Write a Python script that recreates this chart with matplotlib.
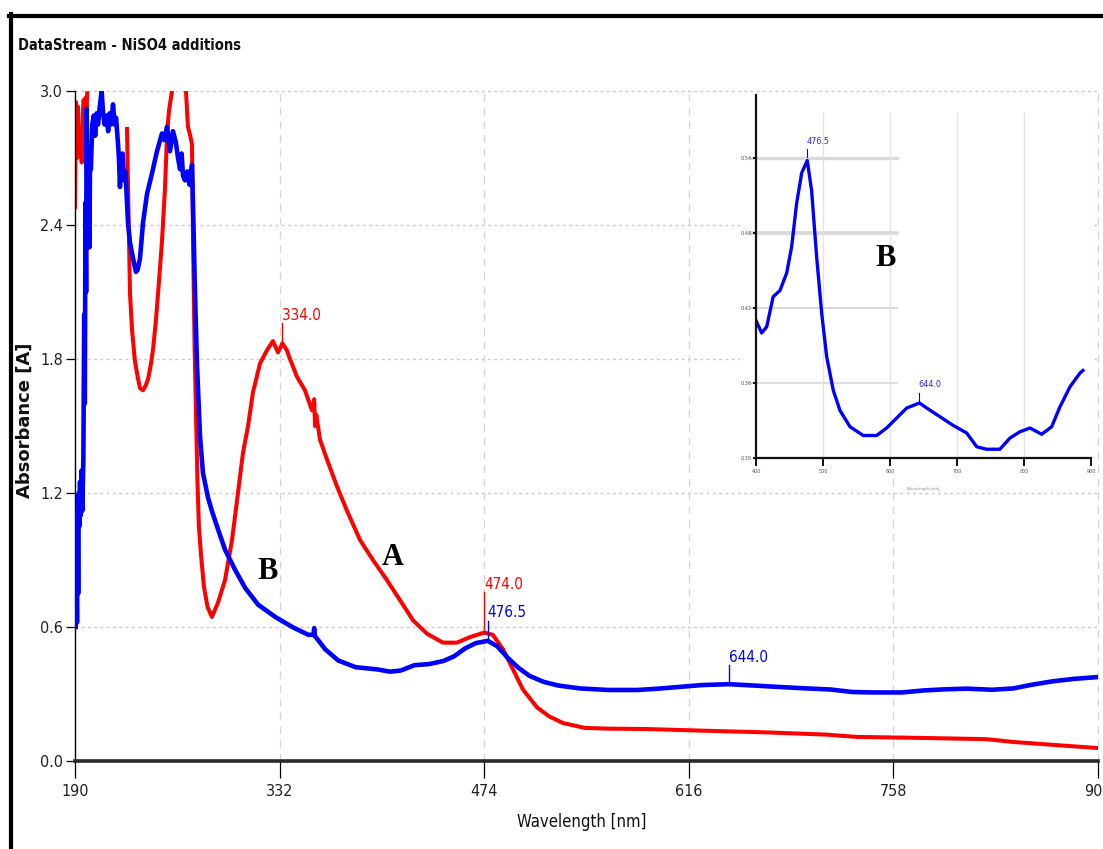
import matplotlib
matplotlib.use("Agg")
import matplotlib.pyplot as plt
from matplotlib.lines import Line2D
from matplotlib.patches import Rectangle

NAN = float("nan")

# ---------------- data ----------------
# Spectrum A (red): wavelength [nm] / absorbance [A]; nan = detector saturated
wl_a = [190, 190.7, 191.3, 192, 192.7, 193.4, 194, 194.7, 195.4, 196, 196.7, 197.4,
        198, 198.5, 199, 225.5, 226.1, 226.8, 227.5, 228.2, 229.6, 231.6, 233.5,
        235.1, 237.2, 239, 240.7, 242.5, 244.1, 246, 247.6, 250.4, 252.5, 253.9,
        255.2, 257.3, 258.5, 265.5, 267.0, 268.4, 270, 271.2, 272.0, 273.0, 274.0,
        275.0, 276.0, 277.5, 279.5, 282.0, 285.0, 289.3, 294.1, 299.0, 303.1, 306.6,
        310.1, 313.5, 318.4, 323.3, 327.4, 330.9, 334.0, 337, 339.2, 344.1, 349.6,
        354.5, 356.0, 356.6, 357.5, 360.0, 364.9, 371.8, 378.8, 387.8, 396.8, 406.5,
        415.6, 424.6, 434.3, 445.4, 455.1, 464.2, 474.0, 480, 487.1, 494.0, 500.9,
        510.7, 519.0, 528.7, 544.0, 560, 587.7, 630, 671.0, 711.9, 732.1, 780,
        822.3, 841.7, 873.7, 900]
abs_a = [2.48, 2.95, 2.70, 2.93, 2.75, 2.82, 2.72, 2.68, 2.90, 2.96, 2.92, 2.97,
         2.90, 2.99, NAN, NAN, 2.83, 2.57, 2.33, 2.09, 1.93, 1.79, 1.72,
         1.67, 1.66, 1.68, 1.71, 1.77, 1.84, 1.96, 2.09, 2.33, 2.57, 2.81,
         2.91, 3.00, NAN, NAN, 3.00, 2.84, 2.80, 2.76, 2.30, 1.85, 1.55,
         1.25, 1.05, 0.92, 0.78, 0.69, 0.645, 0.71, 0.81, 0.99, 1.20, 1.38,
         1.50, 1.65, 1.78, 1.84, 1.88, 1.83, 1.87, 1.84, 1.80, 1.72, 1.66,
         1.57, 1.62, 1.50, 1.55, 1.44, 1.35, 1.23, 1.12, 0.99, 0.90, 0.81,
         0.72, 0.63, 0.57, 0.53, 0.53, 0.555, 0.575, 0.565, 0.50, 0.41, 0.32,
         0.24, 0.20, 0.17, 0.148, 0.145, 0.143, 0.135, 0.128, 0.118, 0.108, 0.103,
         0.098, 0.085, 0.070, 0.058]

# Spectrum B (blue)
wl_b = [190.5, 191, 191.4, 191.8, 192.2, 192.6, 193, 193.5, 194, 194.5, 195, 195.8,
        196.4, 196.8, 197.3, 197.7, 198.1, 198.6, 199, 199.5, 200, 200.5, 201, 202,
        203, 204, 205, 206, 207, 208.5, 209.5, 210.5, 212, 213, 214, 215, 216.4,
        217.5, 218.5, 219.9, 220.5, 221.2, 222, 223, 224, 225, 226.8, 228.2, 230.3,
        232.3, 233.5, 235.1, 237.2, 240, 243.4, 246.9, 250.4, 252, 253.9, 255.9,
        258, 260, 261.5, 262.9, 264, 265, 266.3, 268, 269.5, 271.2, 271.9, 273.3,
        274.7, 276.8, 278.8, 282.3, 285.0, 288.6, 294.2, 301.2, 308.1, 317.1, 329.0,
        340.8, 351.9, 355.5, 356.0, 356.5, 363.7, 372.7, 384.8, 400, 408.5, 416,
        425.6, 435.8, 445.8, 453.2, 460.7, 468.2, 476.5, 483, 490.5, 498, 505.5,
        515.4, 525.4, 540.3, 560.1, 580.1, 595, 610, 625, 644, 654.8, 674.6, 694.5,
        714.5, 729.4, 744, 764, 779.1, 794, 809, 826.4, 841.3, 853.7, 868.7, 883.6,
        888, 900]
abs_b = [0.60, 0.85, 0.62, 1.10, 0.75, 1.20, 1.05, 1.25, 1.10, 1.30, 1.12, 1.35,
         2.00, 1.60, 2.50, 2.10, 2.92, 2.55, 2.35, 2.72, 2.30, 2.75, 2.65, 2.85,
         2.89, 2.80, 2.90, 2.85, 2.92, 3.00, 2.90, 2.85, 2.89, 2.82, 2.90, 2.85, 2.94,
         2.85, 2.88, 2.76, 2.70, 2.57, 2.68, 2.72, 2.60, 2.64, 2.41, 2.32, 2.25,
         2.19, 2.20, 2.25, 2.41, 2.54, 2.63, 2.73, 2.81, 2.78, 2.84, 2.73,
         2.82, 2.77, 2.70, 2.65, 2.72, 2.62, 2.60, 2.64, 2.58, 2.67, 2.49, 2.09,
         1.77, 1.45, 1.29, 1.18, 1.12, 1.05, 0.945, 0.855, 0.775, 0.70, 0.645,
         0.60, 0.565, 0.565, 0.595, 0.56, 0.50, 0.45, 0.42, 0.41, 0.40, 0.405,
         0.429, 0.434, 0.448, 0.469, 0.504, 0.528, 0.538, 0.514, 0.461, 0.416, 0.381,
         0.354, 0.338, 0.325, 0.318, 0.318, 0.324, 0.332, 0.340, 0.344, 0.340, 0.333, 0.326,
         0.320, 0.309, 0.307, 0.307, 0.316, 0.321, 0.324, 0.319, 0.325, 0.341, 0.357, 0.368,
         0.370, 0.376]

# Marked peaks: (wavelength, absorbance at the peak)
peaks_a = [(334.0, 1.87), (474.0, 0.575)]
peaks_b = [(476.5, 0.538), (644.0, 0.344)]

x_ticks = [190, 332, 474, 616, 758, 900]
y_ticks = [0.0, 0.6, 1.2, 1.8, 2.4, 3.0]
inset_x_ticks = [400, 500, 600, 700, 800, 900]
inset_y_ticks = [0.30, 0.36, 0.42, 0.48, 0.54]

title = "DataStream - NiSO4 additions"
x_label = "Wavelength [nm]"
y_label = "Absorbance [A]"

RED = "#ff0000"
BLUE = "#0000ff"
NARROW = dict(family="DejaVu Sans", stretch="condensed")
SERIF = ["Liberation Serif", "DejaVu Serif"]

W, H = 1103, 849
fig = plt.figure(figsize=(W / 100, H / 100), dpi=100)
fig.patch.set_facecolor("white")

def fx(px):
    return px / W

def fy(py):
    return 1 - py / H

# frame lines along the top and left edge of the window
fig.add_artist(Line2D([fx(9), 1], [fy(15.5), fy(15.5)], lw=3, color="black"))
fig.add_artist(Line2D([fx(11), fx(11)], [0, fy(14)], lw=3, color="black"))

fig.text(fx(18), fy(46), title, fontsize=10.5, fontweight="bold",
         va="center", ha="left", color="#111111", **NARROW)

# ---------------- main chart ----------------
ax = fig.add_axes([fx(75), fy(761), fx(1098 - 75), (761 - 91) / H], zorder=0)
ax.set_xlim(190, 900)
ax.set_ylim(0, 3.0)

for y in y_ticks[1:]:
    ax.axhline(y, color="#c9c9c9", lw=1.0, ls=(0, (2, 2.5)), zorder=0.5, clip_on=False)
for x in x_ticks[1:]:
    ax.axvline(x, color="#d4d4d4", lw=0.9, ls=(0, (6, 5)), zorder=0.5, clip_on=False)

ax.plot(wl_a, abs_a, color=RED, lw=2.9, zorder=2, solid_joinstyle="round")
ax.plot(wl_b, abs_b, color=BLUE, lw=3.3, zorder=3, solid_joinstyle="round")

for spine in ("top", "right"):
    ax.spines[spine].set_visible(False)
ax.spines["left"].set_linewidth(1.0)
ax.spines["left"].set_color("black")
ax.spines["bottom"].set_linewidth(2.6)
ax.spines["bottom"].set_color("#2a2a2a")

ax.set_xticks(x_ticks)
ax.set_xticklabels([str(t) for t in x_ticks], fontsize=11.5, color="#222222", **NARROW)
ax.set_yticks(y_ticks)
ax.set_yticklabels([f"{t:.1f}" for t in y_ticks], fontsize=11.5, color="#222222", **NARROW)
ax.tick_params(axis="x", direction="out", length=12.5, width=0.9, pad=4, color="black")
ax.tick_params(axis="y", direction="out", length=6.5, width=0.9, pad=2, color="black")

fig.text(fx(582), fy(822), x_label, fontsize=12, ha="center",
         va="center", color="#111111", **NARROW)
fig.text(fx(25), fy(420), y_label, fontsize=13, fontweight="bold", rotation=90,
         family="DejaVu Sans", ha="center", va="center", color="#111111")

# peak markers with their wavelength labels
def mark_peak(axis, wl, val, lo, hi, gap, color, size, lw):
    axis.plot([wl, wl], [val + lo, val + hi], color=color, lw=lw, zorder=4)
    axis.text(wl, val + hi + gap, f"{wl:.1f}", color=color, fontsize=size,
              ha="left", va="baseline", zorder=4, **NARROW)

mark_peak(ax, peaks_a[0][0], peaks_a[0][1], 0.0, 0.09, 0.015, RED, 11, 1.0)
mark_peak(ax, peaks_a[1][0], peaks_a[1][1], 0.0, 0.18, 0.015, RED, 11, 1.0)
mark_peak(ax, peaks_b[0][0], peaks_b[0][1], 0.01, 0.09, 0.015, BLUE, 11, 1.0)
mark_peak(ax, peaks_b[1][0], peaks_b[1][1], 0.005, 0.085, 0.015, BLUE, 11, 1.0)

ax.text(324, 0.85, "B", family=SERIF, fontweight="bold", fontsize=22,
        ha="center", va="center", color="black", zorder=5)
ax.text(410.7, 0.91, "A", family=SERIF, fontweight="bold", fontsize=22,
        ha="center", va="center", color="black", zorder=5)

# ---------------- inset: spectrum B, 400-900 nm ----------------
fig.add_artist(Rectangle((fx(740), fy(478)), fx(1094 - 740), (478 - 94) / H,
                         transform=fig.transFigure, facecolor="white",
                         edgecolor="none", zorder=2))

axin = fig.add_axes([fx(756), fy(458), fx(335), 363 / H], zorder=3)
axin.set_xlim(400, 900)
axin.set_ylim(0.30, 0.5904)
axin.patch.set_alpha(0)

for y, w in zip(inset_y_ticks[1:], [1.2, 1.4, 2.6, 2.4]):
    axin.plot([392, 610], [y, y], color="#d9d9d9", lw=w, zorder=0.5, clip_on=False)
for x in inset_x_ticks[1:]:
    axin.plot([x, x], [0.30, 0.576], color="#e3e3e3", lw=1.0, zorder=0.5)

sel = [i for i, w in enumerate(wl_b) if 400 <= w <= 888]
axin.plot([wl_b[i] for i in sel], [abs_b[i] for i in sel], color=BLUE, lw=2.4,
          zorder=2, solid_joinstyle="round")

for spine in ("top", "right"):
    axin.spines[spine].set_visible(False)
for spine in ("left", "bottom"):
    axin.spines[spine].set_linewidth(1.6)
    axin.spines[spine].set_color("#111111")

axin.set_xticks(inset_x_ticks)
axin.set_xticklabels([str(t) for t in inset_x_ticks], fontsize=4, color="#555555", **NARROW)
axin.set_yticks(inset_y_ticks)
axin.set_yticklabels([f"{t:.2f}" for t in inset_y_ticks], fontsize=4, color="#555555", **NARROW)
axin.tick_params(axis="x", direction="out", length=6, width=1.3, pad=2)
axin.tick_params(axis="y", direction="out", length=2.5, width=1.3, pad=1)
axin.text(0.5, -0.085, x_label, transform=axin.transAxes, fontsize=3,
          color="#888888", ha="center", va="center", **NARROW)

pk1, pk2 = peaks_b
axin.plot([pk1[0], pk1[0]], [pk1[1] + 0.003, pk1[1] + 0.009], color=BLUE, lw=0.8)
axin.text(pk1[0] - 1, pk1[1] + 0.013, f"{pk1[0]:.1f}", color=BLUE, fontsize=6.5,
          ha="left", va="baseline", alpha=0.85, **NARROW)
axin.plot([pk2[0], pk2[0]], [pk2[1] + 0.002, pk2[1] + 0.008], color=BLUE, lw=0.8)
axin.text(pk2[0] - 1, pk2[1] + 0.013, f"{pk2[0]:.1f}", color=BLUE, fontsize=6.5,
          ha="left", va="baseline", alpha=0.85, **NARROW)

axin.text(594, 0.46, "B", family=SERIF, fontweight="bold", fontsize=22,
          ha="center", va="center", color="black")

fig.savefig("out.png", dpi=100, facecolor="white")
